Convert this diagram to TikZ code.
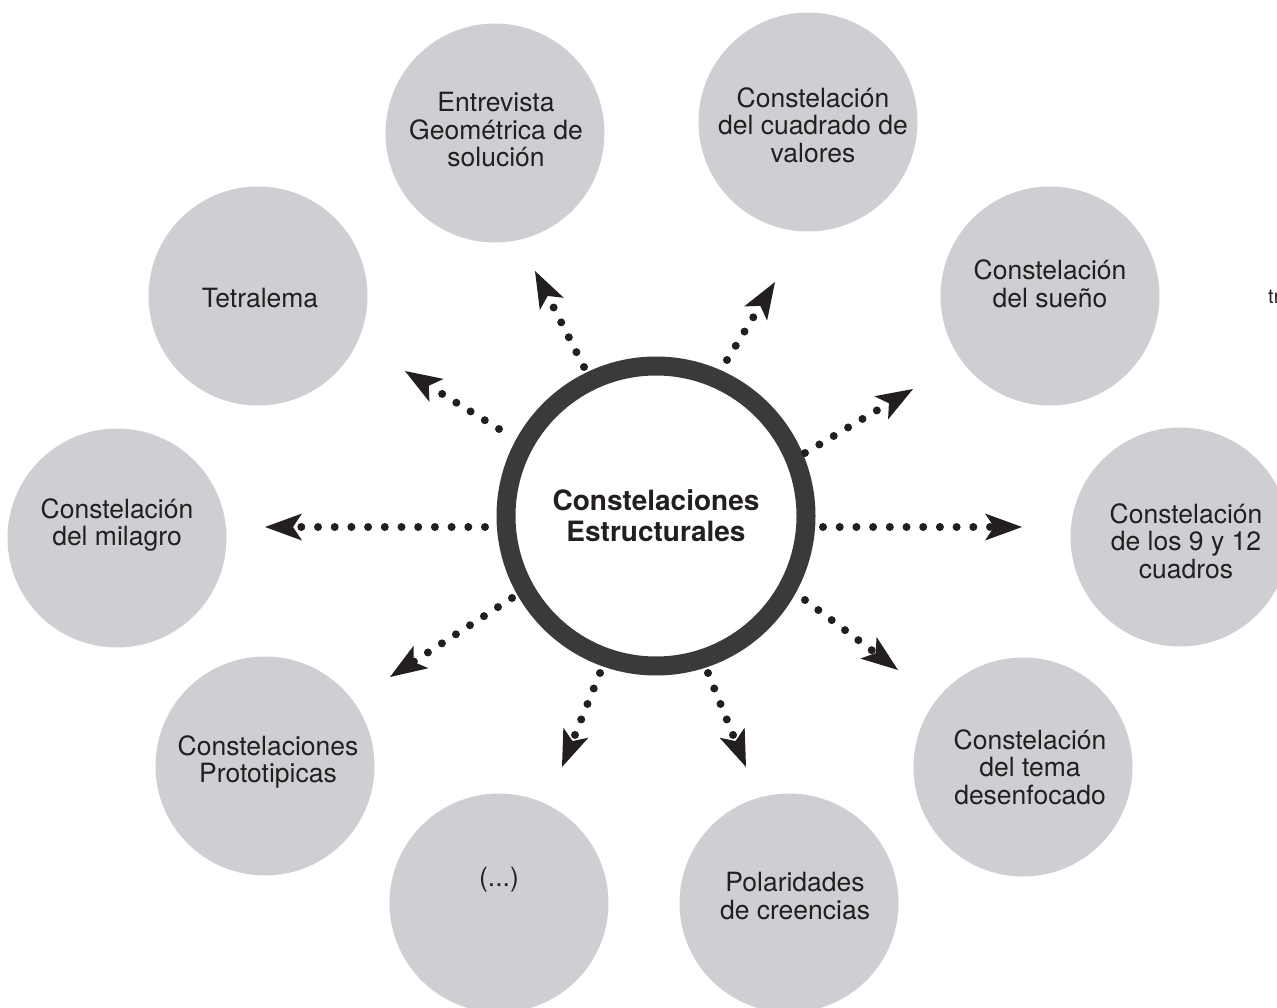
\documentclass[tikz,border=0pt]{standalone}
\usepackage{fontspec}
\setmainfont{TeX Gyre Heros}
\usetikzlibrary{arrows.meta}
\definecolor{satc}{HTML}{CDCFD2}
\definecolor{ringc}{HTML}{3A3A3C}
\definecolor{ink}{HTML}{231F20}
\begin{document}
\begin{tikzpicture}[x=1pt,y=-1pt,
  sat/.style={circle, fill=satc, minimum size=219pt, inner sep=0pt},
  lbl/.style={align=center, font=\fontsize{26.5}{27.5}\selectfont, text=ink, inner sep=0pt},
  dotarrow/.style={line width=8pt, draw=ink, line cap=round, dash pattern=on 0pt off 16.7pt,
    -{Stealth[length=37pt,width=27pt,inset=9pt,line width=0pt,fill=ink]}},
]
\useasboundingbox (0,0) rectangle (1277,1008);
\clip (0,0) rectangle (1277,1008);

% satellites
\node[sat] (entre) at (495,133) {};
\node[lbl] (entre-t) at (496,130) {Entrevista\\Geométrica de\\solución};
\node[sat] (cuad) at (808,122) {};
\node[lbl] (cuad-t) at (813,125) {Constelación\\del cuadrado de\\valores};
\node[sat] (sueno) at (1050,296) {};
\node[lbl] (sueno-t) at (1050,284) {Constelación\\del sueño};
\node[sat] (nueve) at (1180,537) {};
\node[lbl] (nueve-t) at (1186,541) {Constelación\\de los 9 y 12\\cuadros};
\node[sat] (desen) at (1023,767) {};
\node[lbl] (desen-t) at (1030,767) {Constelación\\del tema\\desenfocado};
\node[sat] (polar) at (789,903) {};
\node[lbl] (polar-t) at (795,896) {Polaridades\\de creencias};
\node[sat] (etc) at (499,903) {};
\node[lbl] (etc-t) at (499,880) {(...)};
\node[sat] (proto) at (265,766) {};
\node[lbl] (proto-t) at (268,762) {Constelaciones\\Prototipicas};
\node[sat] (mila) at (117,538) {};
\node[lbl] (mila-t) at (117,525) {Constelación\\del milagro};
\node[sat] (tetra) at (258,296) {};
\node[lbl] (tetra-t) at (260,298) {Tetralema};

% fragment at right edge
\node[anchor=west, font=\fontsize{20}{21}\selectfont, text=ink, inner sep=0pt] (frag) at (1268,297) {tr};

% central ring
\node[circle, draw=ringc, line width=19pt, minimum size=300pt, inner sep=0pt, align=center,
      font=\bfseries\fontsize{28}{31}\selectfont, text=ink] (core) at (656,516)
      {Constelaciones\\Estructurales};

% arrow coordinates
\coordinate (s1) at (485,527);  \coordinate (t1) at (265,527);
\coordinate (s2) at (823,527);  \coordinate (t2) at (1022,527);
\coordinate (s3) at (805,453);  \coordinate (t3) at (913,389);
\coordinate (s4) at (499,429);  \coordinate (t4) at (405,371);
\coordinate (s5) at (584,367);  \coordinate (t5) at (535,271);
\coordinate (s6) at (727,360);  \coordinate (t6) at (775,282);
\coordinate (s7) at (805,600);  \coordinate (t7) at (898,670);
\coordinate (s8) at (512,598);  \coordinate (t8) at (390,677);
\coordinate (s9) at (600,673);  \coordinate (t9) at (562,767);
\coordinate (s10) at (708,673); \coordinate (t10) at (746,767);

\foreach \i in {1,...,10} {
  \draw[dotarrow] (s\i) -- (t\i);
}
\end{tikzpicture}
\end{document}
